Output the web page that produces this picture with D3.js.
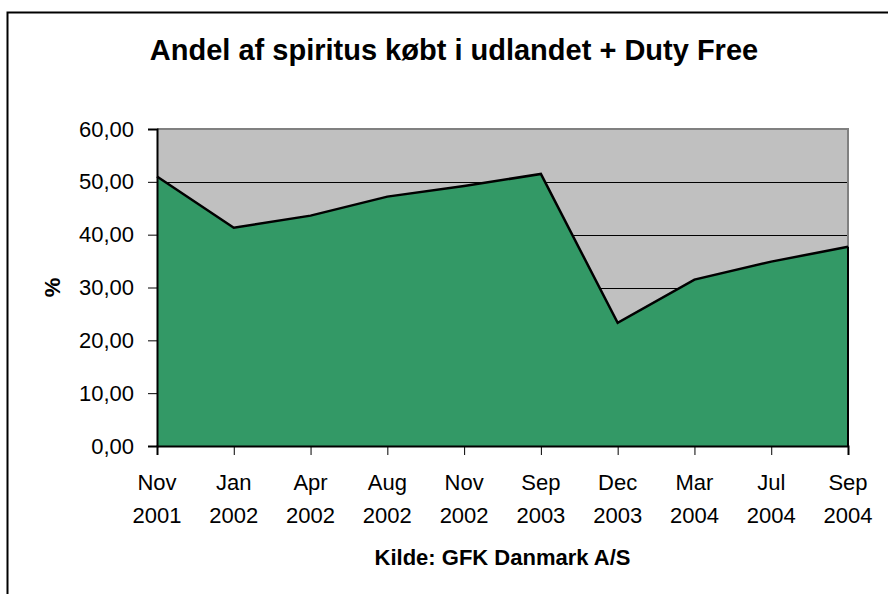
<!DOCTYPE html>
<html>
<head>
<meta charset="utf-8">
<script src="https://cdn.jsdelivr.net/npm/d3@7"></script>
<style>
  body { margin: 0; background: #fff; }
  text { font-family: Arial, "Liberation Sans", sans-serif; fill: #000; }
</style>
</head>
<body>
<svg id="chart" width="888" height="594"></svg>
<script>
// data
var months = ["Nov", "Jan", "Apr", "Aug", "Nov", "Sep", "Dec", "Mar", "Jul", "Sep"];
var years  = ["2001", "2002", "2002", "2002", "2002", "2003", "2003", "2004", "2004", "2004"];
var share  = [51.0, 41.3, 43.6, 47.2, 49.2, 51.5, 23.3, 31.5, 34.9, 37.7];
var yTicks = [0, 10, 20, 30, 40, 50, 60];

var svg = d3.select("#chart");
var plotL = 157, plotR = 848, plotT = 129, plotB = 446;

// outer chart border (only top and left edge visible)
svg.append("rect")
   .attr("x", 7.5).attr("y", 12.5)
   .attr("width", 900).attr("height", 620)
   .attr("fill", "#fff").attr("stroke", "#000").attr("stroke-width", 2);

var x = d3.scalePoint().domain(d3.range(share.length)).range([plotL, plotR]);
var y = d3.scaleLinear().domain([0, 60]).range([plotB, plotT]);

// plot background
svg.append("rect")
   .attr("x", plotL).attr("y", plotT)
   .attr("width", plotR - plotL).attr("height", plotB - plotT)
   .attr("fill", "#c0c0c0");

// gridlines
svg.append("g").selectAll("line")
   .data(yTicks.filter(function(d){ return d > 0 && d < 60; }))
   .enter().append("line")
   .attr("x1", plotL).attr("x2", plotR)
   .attr("y1", function(d){ return Math.round(y(d)) + 0.5; })
   .attr("y2", function(d){ return Math.round(y(d)) + 0.5; })
   .attr("stroke", "#000").attr("stroke-width", 1);

// plot border top/right
svg.append("path")
   .attr("d", "M" + plotL + "," + plotT + "H" + plotR + "V" + plotB)
   .attr("fill", "none").attr("stroke", "#808080").attr("stroke-width", 2);

// area
var area = d3.area()
   .x(function(d, i){ return x(i); })
   .y0(y(0))
   .y1(function(d){ return y(d); });
svg.append("path").datum(share)
   .attr("d", area)
   .attr("fill", "#339966");

var line = d3.line()
   .x(function(d, i){ return x(i); })
   .y(function(d){ return y(d); });
svg.append("path").datum(share)
   .attr("d", line)
   .attr("fill", "none").attr("stroke", "#000")
   .attr("stroke-width", 2.5).attr("stroke-linejoin", "miter");
// right edge of area
svg.append("line")
   .attr("x1", plotR).attr("x2", plotR)
   .attr("y1", y(share[share.length - 1])).attr("y2", plotB)
   .attr("stroke", "#000").attr("stroke-width", 2);

// y axis
var yAxis = d3.axisLeft(y).tickValues(yTicks).tickSize(9).tickPadding(14)
   .tickFormat(function(d){ return d3.format(".2f")(d).replace(".", ","); });
var gy = svg.append("g").attr("transform", "translate(" + plotL + ",0)").call(yAxis);
gy.select(".domain").attr("stroke-width", 2);
gy.selectAll("text").style("font-size", "22px").style("font-family", "Arial, 'Liberation Sans', sans-serif");

// x axis
var xAxis = d3.axisBottom(x).tickSize(9).tickFormat("");
var gx = svg.append("g").attr("transform", "translate(0," + plotB + ")").call(xAxis);
gx.select(".domain").attr("stroke-width", 2);

var labels = svg.append("g").selectAll("g")
   .data(share).enter().append("g");
labels.append("text")
   .attr("x", function(d, i){ return x(i); }).attr("y", 490)
   .attr("text-anchor", "middle").style("font-size", "22px")
   .text(function(d, i){ return months[i]; });
labels.append("text")
   .attr("x", function(d, i){ return x(i); }).attr("y", 523)
   .attr("text-anchor", "middle").style("font-size", "22px")
   .text(function(d, i){ return years[i]; });

// titles
svg.append("text")
   .attr("x", 454).attr("y", 60)
   .attr("text-anchor", "middle")
   .style("font-size", "29px").style("font-weight", "bold")
   .text("Andel af spiritus købt i udlandet + Duty Free");

svg.append("text")
   .attr("transform", "translate(60," + ((plotT + plotB) / 2) + ") rotate(-90)")
   .attr("text-anchor", "middle")
   .style("font-size", "22px").style("font-weight", "bold")
   .text("%");

svg.append("text")
   .attr("x", (plotL + plotR) / 2).attr("y", 565)
   .attr("text-anchor", "middle")
   .style("font-size", "22px").style("font-weight", "bold")
   .text("Kilde: GFK Danmark A/S");
</script>
</body>
</html>
